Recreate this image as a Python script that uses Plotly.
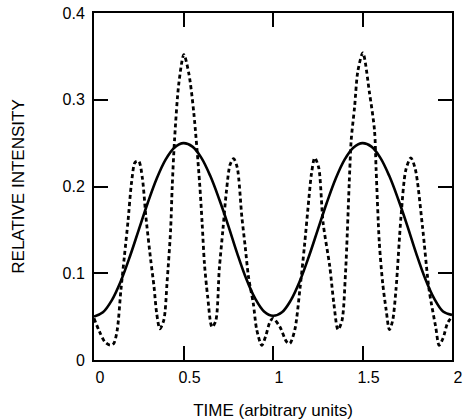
import plotly.graph_objects as go

# Solid curve
solid_x = [0.00, 0.05, 0.10, 0.15, 0.20, 0.25, 0.30, 0.35, 0.40, 0.45, 0.50,
           0.55, 0.60, 0.65, 0.70, 0.75, 0.80, 0.85, 0.90, 0.95, 1.00,
           1.05, 1.10, 1.15, 1.20, 1.25, 1.30, 1.35, 1.40, 1.45, 1.50,
           1.55, 1.60, 1.65, 1.70, 1.75, 1.80, 1.85, 1.90, 1.95, 2.00]
solid_y = [0.050, 0.055, 0.069, 0.091, 0.119, 0.150, 0.181, 0.209, 0.231, 0.245, 0.250,
           0.246, 0.233, 0.212, 0.185, 0.155, 0.123, 0.094, 0.071, 0.056, 0.051,
           0.055, 0.069, 0.091, 0.119, 0.150, 0.181, 0.209, 0.231, 0.245, 0.250,
           0.246, 0.233, 0.212, 0.185, 0.155, 0.123, 0.094, 0.071, 0.056, 0.052]

# Dotted curve
dotted_x = [0.000, 0.030, 0.060, 0.090, 0.110, 0.130, 0.150, 0.170, 0.190, 0.210,
            0.230, 0.250, 0.270, 0.290, 0.317, 0.335, 0.350, 0.368, 0.390, 0.409,
            0.428, 0.437, 0.450, 0.474, 0.502, 0.530, 0.557, 0.590, 0.604, 0.617,
            0.635, 0.659, 0.680, 0.700, 0.720, 0.740, 0.760, 0.780, 0.800, 0.826,
            0.845, 0.863, 0.890, 0.909, 0.937, 0.960, 0.983, 1.000, 1.039, 1.076,
            1.094, 1.122, 1.150, 1.175, 1.200, 1.215, 1.233, 1.255, 1.280, 1.317,
            1.340, 1.363, 1.385, 1.405, 1.428, 1.437, 1.456, 1.474, 1.502, 1.539,
            1.567, 1.576, 1.594, 1.613, 1.632, 1.650, 1.668, 1.687, 1.715, 1.742,
            1.770, 1.795, 1.835, 1.872, 1.909, 1.928, 1.950, 1.974, 2.000]
dotted_y = [0.048, 0.033, 0.021, 0.017, 0.019, 0.035, 0.080, 0.120, 0.160, 0.205,
            0.228, 0.229, 0.210, 0.165, 0.115, 0.085, 0.054, 0.036, 0.046, 0.092,
            0.150, 0.200, 0.254, 0.319, 0.352, 0.330, 0.286, 0.204, 0.158, 0.111,
            0.073, 0.038, 0.045, 0.105, 0.150, 0.195, 0.225, 0.232, 0.222, 0.165,
            0.130, 0.096, 0.065, 0.035, 0.017, 0.028, 0.044, 0.048, 0.038, 0.021,
            0.019, 0.035, 0.081, 0.130, 0.185, 0.215, 0.233, 0.222, 0.158, 0.108,
            0.065, 0.035, 0.045, 0.100, 0.215, 0.254, 0.292, 0.333, 0.354, 0.308,
            0.265, 0.220, 0.135, 0.088, 0.058, 0.035, 0.045, 0.081, 0.165, 0.219,
            0.233, 0.220, 0.154, 0.081, 0.038, 0.017, 0.025, 0.042, 0.050]

x_ticks = [0, 0.5, 1, 1.5, 2]
x_tick_labels = ["0", "0.5", "1", "1.5", "2"]
y_ticks = [0, 0.1, 0.2, 0.3, 0.4]
y_tick_labels = ["0", "0.1", "0.2", "0.3", "0.4"]

fig = go.Figure()
fig.add_trace(go.Scatter(x=dotted_x, y=dotted_y, mode="lines",
                         line=dict(color="black", width=2.8, dash="4px,3px", shape="spline", smoothing=0.8),
                         showlegend=False))
fig.add_trace(go.Scatter(x=solid_x, y=solid_y, mode="lines",
                         line=dict(color="black", width=2.6, shape="spline"),
                         showlegend=False))

font = "Liberation Sans, Arial, sans-serif"
fig.update_layout(
    width=464, height=420,
    margin=dict(l=94, r=12, t=13, b=60, autoexpand=False),
    paper_bgcolor="white", plot_bgcolor="white",
    font=dict(family=font, color="black", size=16),
)
fig.update_xaxes(range=[0, 2], tickvals=x_ticks, ticktext=x_tick_labels,
                 ticks="inside", ticklen=14, tickwidth=1.5, tickcolor="black",
                 showline=True, linewidth=2, linecolor="black", mirror="ticks",
                 showgrid=False, zeroline=False, ticklabelshift=6, ticklabelstandoff=2,
                 automargin=False,
                 title=dict(text="TIME (arbitrary units)", standoff=22,
                            font=dict(size=17)),
                 tickfont=dict(size=16))
fig.update_yaxes(range=[0, 0.4], tickvals=y_ticks, ticktext=y_tick_labels,
                 ticks="inside", ticklen=14, tickwidth=1.5, tickcolor="black",
                 showline=True, linewidth=2, linecolor="black", mirror="ticks",
                 showgrid=False, zeroline=False, ticklabelstandoff=4, automargin=False,
                 title=dict(text="RELATIVE INTENSITY", standoff=34,
                            font=dict(size=17)),
                 tickfont=dict(size=16))

fig.write_html("out.html", config={"displayModeBar": False},
               post_script="document.body.style.margin='0';")
